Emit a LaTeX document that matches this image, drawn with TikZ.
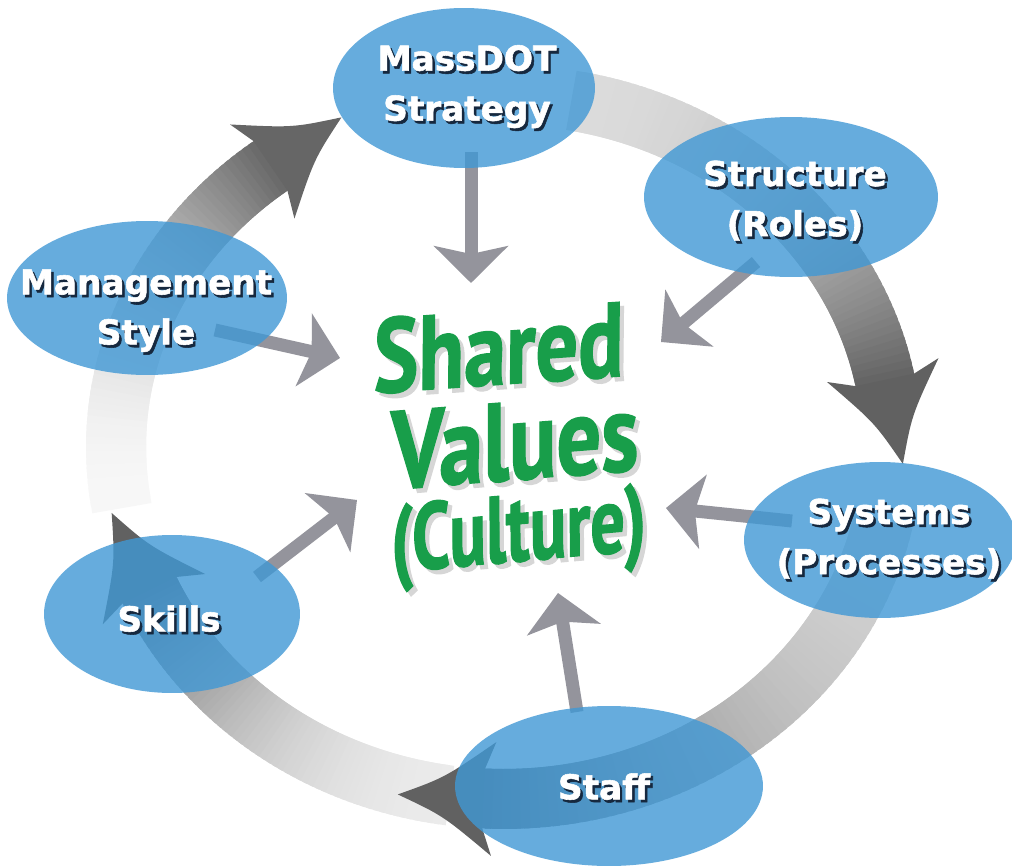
\documentclass[tikz,border=0pt]{standalone}
\usepackage{fontspec}
\usetikzlibrary{shapes.geometric,arrows.meta}

\newfontfamily\lblfont{DejaVu Sans Bold}[FakeBold=1.6]
\newfontfamily\culturefont{PT Sans}[UprightFont={* Bold},FakeStretch=0.8,FakeSlant=0.08,FakeBold=1.2]
\newfontfamily\culturenarrow{PT Sans}[UprightFont={* Bold},FakeStretch=0.72,FakeSlant=0.08,FakeBold=1.2]

\definecolor{ovalblue}{RGB}{64,152,213}
\definecolor{pointergray}{RGB}{148,148,156}
\definecolor{culturegreen}{RGB}{24,158,74}
\definecolor{lblshadow}{RGB}{22,40,62}

% white lettering with a dark drop shadow
\newcommand\embossed[1]{\rlap{\hspace{1.4pt}\raisebox{-1.6pt}{\textcolor{lblshadow}{#1}}}#1}
% green lettering with a soft grey shadow
\newcommand\softshadow[1]{\rlap{\hspace{2.2pt}\raisebox{-2.6pt}{\textcolor{black!16}{#1}}}#1}

% the cycle ring: an ellipse in pixel units
\newcommand\ringcx{504}
\newcommand\ringcy{447}
\newcommand\ringrx{388}
\newcommand\ringry{352}

% band from angle #1 to #2, shade going from #3 to #4 (percent of black)
\newcommand\ringband[4]{%
  \foreach \k in {0,...,59}{%
    \pgfmathsetmacro\ta{(#1)+((#2)-(#1))*\k/60}%
    \pgfmathsetmacro\tb{(#1)+((#2)-(#1))*(\k+1.8)/60}%
    \pgfmathsetmacro\tt{\k/60}%
    \pgfmathsetmacro\sh{(#3)+((#4)-(#3))*\tt*\tt}%
    \draw[ringline,draw=black!\sh]
      ({\ringcx+\ringrx*cos(\ta)},{\ringcy-\ringry*sin(\ta)}) --
      ({\ringcx+\ringrx*cos(\tb)},{\ringcy-\ringry*sin(\tb)});
  }}

% swept arrow head on the ring at angle #1, shade #2
\newcommand\ringhead[2]{%
  \pgfmathsetmacro\hx{\ringcx+\ringrx*cos(#1)}%
  \pgfmathsetmacro\hy{\ringcy-\ringry*sin(#1)}%
  \pgfmathsetmacro\hang{-atan2(\ringry*cos(#1),\ringrx*sin(#1))}%
  \begin{scope}[shift={(\hx,\hy)},rotate=\hang]
    \fill[black!#2] (86,0) .. controls (40,19) .. (-10,57) -- (0,30)
      -- (0,-30) -- (-10,-57) .. controls (40,-19) .. (86,0) -- cycle;
  \end{scope}}

\tikzset{
  ringline/.style={line width=1.2cm,line cap=butt},
  oval/.style={ellipse,fill=ovalblue,fill opacity=0.8,draw=none,inner sep=0pt,outer sep=0pt},
  lbl/.style={text=white,font=\lblfont\fontsize{19.5}{28.5}\selectfont,align=center,inner sep=0pt},
  pointer/.style={draw=pointergray,line width=0.26cm,line cap=butt,
    -{Stealth[length=21pt,width=42pt,inset=4.5pt]}},
  cv/.style={text=culturegreen,inner sep=0pt}
}

\begin{document}
\begin{tikzpicture}[x=0.02cm,y=-0.02cm]
  \useasboundingbox (0,0) rectangle (1012,866);
  \fill[white] (0,0) rectangle (1012,866);

  % cycle ring bands
  \ringband{190}{127}{3}{60}
  \ringband{80}{11}{14}{62}
  \ringband{-12}{-93}{18}{62}
  \ringband{-98}{-156}{8}{62}

  % cycle ring heads
  \ringhead{127}{60}
  \ringhead{11}{62}
  \ringhead{-93}{62}
  \ringhead{-156}{62}

  % pointers into the centre
  \coordinate (stratFrom) at (471,152);  \coordinate (stratTo) at (471,283);
  \coordinate (structFrom) at (756,262); \coordinate (structTo) at (661,342);
  \coordinate (mgmtFrom) at (215,330);   \coordinate (mgmtTo) at (340,358);
  \coordinate (skillsFrom) at (257,577); \coordinate (skillsTo) at (357,500);
  \coordinate (sysFrom) at (792,521);    \coordinate (sysTo) at (666,508);
  \coordinate (staffFrom) at (577,712);  \coordinate (staffTo) at (558,593);
  \draw[pointer] (stratFrom) -- (stratTo);
  \draw[pointer] (structFrom) -- (structTo);
  \draw[pointer] (mgmtFrom) -- (mgmtTo);
  \draw[pointer] (skillsFrom) -- (skillsTo);
  \draw[pointer] (sysFrom) -- (sysTo);
  \draw[pointer] (staffFrom) -- (staffTo);

  % the six elements
  \node[oval,minimum width=5.24cm,minimum height=3.2cm]  (strat)  at (464,88) {};
  \node[oval,minimum width=5.88cm,minimum height=3.2cm]  (struct) at (791,197) {};
  \node[oval,minimum width=5.6cm,minimum height=3.08cm]  (mgmt)   at (147,298) {};
  \node[oval,minimum width=5.44cm,minimum height=3.12cm] (sys)    at (880,540) {};
  \node[oval,minimum width=5.12cm,minimum height=3.16cm] (skills) at (172,614) {};
  \node[oval,minimum width=6.16cm,minimum height=3.2cm]  (staff)  at (609,786) {};

  \node[lbl] (stratText)  at (467,88)  {\embossed{MassDOT}\\\embossed{Strategy}};
  \node[lbl] (structText) at (795,202) {\embossed{Structure}\\\embossed{(Roles)}};
  \node[lbl] (mgmtText)   at (146,312) {\embossed{Management}\\\embossed{Style}};
  \node[lbl] (sysText)    at (889,540) {\embossed{Systems}\\\embossed{(Processes)}};
  \node[lbl] (skillsText) at (169,620) {\embossed{Skills}};
  \node[lbl] (staffText)  at (604,788) {\embossed{Staff}};

  % centre
  \node[cv,rotate=4,font=\culturefont\fontsize{60}{60}\selectfont]     (cvShared)  at (496,350) {\softshadow{Shared}};
  \node[cv,rotate=4.5,font=\culturefont\fontsize{63}{63}\selectfont]   (cvValues)  at (512,444) {\softshadow{Values}};
  \node[cv,rotate=5,font=\culturenarrow\fontsize{54}{54}\selectfont]   (cvCulture) at (517,540) {\softshadow{(Culture)}};
\end{tikzpicture}
\end{document}
